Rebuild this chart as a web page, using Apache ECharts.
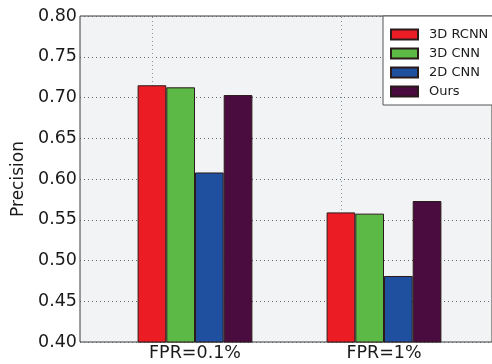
<!DOCTYPE html>
<html>
<head>
<meta charset="utf-8">
<script src="https://cdn.jsdelivr.net/npm/echarts@6/dist/echarts.min.js"></script>
<style>
  html, body { margin: 0; padding: 0; background: #ffffff; }
  #chart { width: 492px; height: 364px; }
</style>
</head>
<body>
<div id="chart"></div>
<script>
// Precision of each method at two false-positive rates
const groups = ['FPR=0.1%', 'FPR=1%'];
const methods = ['3D RCNN', '3D CNN', '2D CNN', 'Ours'];
const rcnn3d = [0.715, 0.559];
const cnn3d = [0.7125, 0.5575];
const cnn2d = [0.608, 0.481];
const ours = [0.703, 0.573];
const yMin = 0.40;
const yMax = 0.80;
const yStep = 0.05;

const colors = ['#ec1c24', '#5cb946', '#1f4f9f', '#4a0b3f'];
const seriesValues = [rcnn3d, cnn3d, cnn2d, ours];

const chart = echarts.init(document.getElementById('chart'), null, { renderer: 'canvas' });

const font = 'DejaVu Sans';
const plotTop = 16;
const plotHeight = 326;

const series = methods.map((name, i) => ({
  name: name,
  type: 'bar',
  xAxisIndex: 0,
  yAxisIndex: 0,
  data: seriesValues[i],
  barWidth: 28.7,
  barGap: '0%',
  z: 3,
  itemStyle: { color: colors[i], borderColor: '#2a1a1a', borderWidth: 1 },
  emphasis: { disabled: true },
  // dotted vertical guides through each group centre, behind the bars
  markLine: i === 0 ? {
    silent: true,
    symbol: 'none',
    z: 1,
    label: { show: false },
    lineStyle: { type: [1, 3], color: '#8a949c', width: 1 },
    emphasis: { disabled: true },
    data: groups.map((g) => ({ xAxis: g }))
  } : undefined
}));

chart.setOption({
  animation: false,
  textStyle: { fontFamily: font },
  grid: [
    // grid 0: one 189px band per group
    { left: 100.5, top: plotTop, width: 378, height: plotHeight, show: false },
    // grid 1: the framed plot area with the precision scale
    {
      left: 80, top: plotTop, width: 425, height: plotHeight,
      show: true, backgroundColor: '#f2f3f4', borderColor: '#3a3a3a', borderWidth: 1
    }
  ],
  legend: {
    data: methods,
    orient: 'vertical',
    left: 383, top: 16,
    width: 107,
    padding: [12, 8, 7, 7],
    itemWidth: 27, itemHeight: 10, itemGap: 6,
    backgroundColor: '#ffffff',
    borderColor: '#555555', borderWidth: 1, borderRadius: 0,
    icon: 'rect',
    textStyle: { fontFamily: font, fontSize: 13, color: '#1a1a1a', padding: [0, 0, 0, 6] },
    z: 10
  },
  xAxis: [
    {
      gridIndex: 0,
      type: 'category',
      data: groups,
      axisLine: { show: false },
      axisTick: { show: false },
      axisLabel: { interval: 0, margin: 2, fontFamily: font, fontSize: 17.5, color: '#1a1a1a' },
      splitLine: { show: false }
    },
    { gridIndex: 1, type: 'value', min: 0, max: 1, show: false }
  ],
  yAxis: [
    {
      gridIndex: 0, type: 'value', min: yMin, max: yMax, interval: yStep, show: false
    },
    {
      gridIndex: 1,
      type: 'value',
      min: yMin, max: yMax, interval: yStep,
      name: 'Precision',
      nameLocation: 'middle',
      nameGap: 45,
      nameTextStyle: { fontFamily: font, fontSize: 17, color: '#1a1a1a' },
      axisLine: { show: false },
      axisTick: { show: false },
      axisLabel: {
        margin: 3,
        fontFamily: font, fontSize: 17.5, color: '#1a1a1a',
        formatter: (v) => v.toFixed(2)
      },
      splitLine: { show: true, lineStyle: { type: [1, 3], color: '#5a6670', width: 1 } }
    }
  ],
  series: series
});
</script>
</body>
</html>
